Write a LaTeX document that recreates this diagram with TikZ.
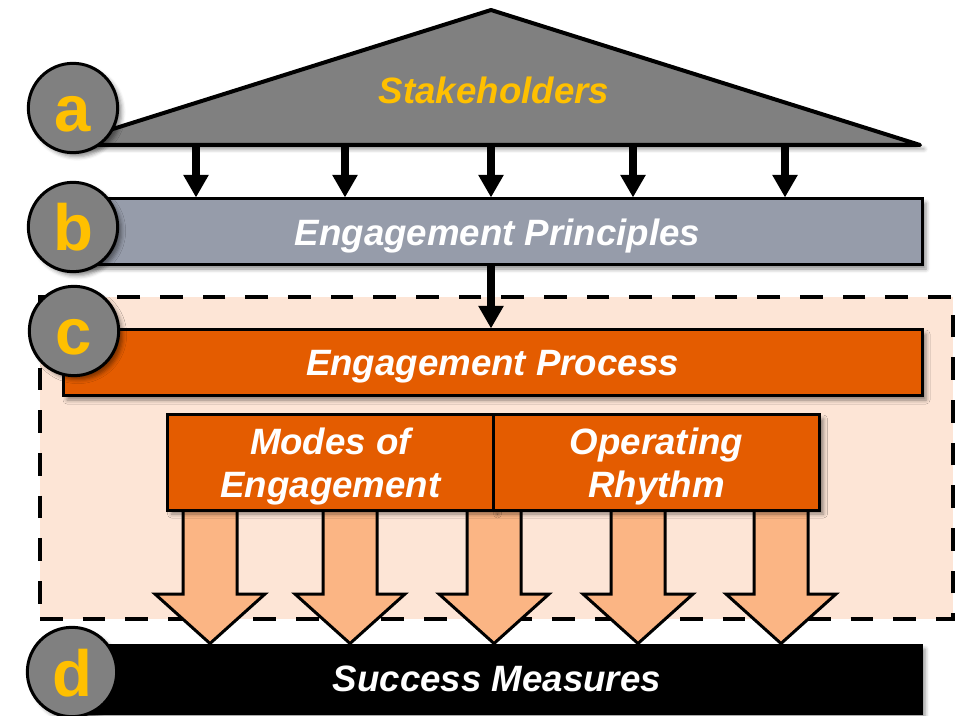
\documentclass[tikz,border=0pt]{standalone}
\usepackage{fontspec}
\setmainfont{Liberation Sans}
\usetikzlibrary{arrows.meta}
\usetikzlibrary{positioning}
\usetikzlibrary{shadows.blur}

\definecolor{tagGray}{RGB}{128,128,128}
\definecolor{tagGold}{RGB}{255,192,0}
\definecolor{principleBlue}{RGB}{150,156,170}
\definecolor{processOrange}{RGB}{228,92,0}
\definecolor{processPeach}{RGB}{253,229,214}
\definecolor{flowPeach}{RGB}{251,181,132}

\tikzset{
  % soft shadow below and right of the shapes
  soft shadow/.style = {
    blur shadow={shadow xshift=3pt,shadow yshift=-3pt,shadow blur radius=3pt,shadow opacity=45}
  },
  label font/.style = {
    font = \bfseries\itshape\fontsize{27.5}{32}\selectfont
  },
  % horizontal layer bar
  level/.style = {
    draw = black,
    line width = 2.25pt,
    rectangle,
    minimum height = 49.5pt,
    inner sep = 0,
    text = white,
    text depth = 0pt,
    label font,
    soft shadow
  },
  % two-line box inside the process layer
  box/.style = {
    level,
    fill = processOrange,
    minimum width = 244.5pt,
    minimum height = 71.25pt,
    align = center
  },
  % dashed process area
  region/.style = {
    draw = black,
    fill = processPeach,
    line width = 3.6pt,
    dash pattern = on 17pt off 15pt,
    rectangle,
    inner sep = 0
  },
  % layer letter
  tag/.style = {
    circle,
    draw = black,
    line width = 2.25pt,
    fill = tagGray,
    text = tagGold,
    minimum size = 67pt,
    inner sep = 0,
    text height = 36pt,
    text depth = 0pt,
    font = \bfseries\fontsize{49}{49}\selectfont,
    soft shadow
  },
  roof/.style = {
    draw = black,
    fill = tagGray,
    line width = 3pt,
    line join = round,
    soft shadow
  },
  % thin black arrow between layers
  feed/.style = {
    draw = black,
    line width = 6pt,
    -{Triangle[width = 18pt, length = 17pt]}
  },
  % wide block arrow
  flow/.style = {
    draw = black,
    fill = flowPeach,
    line width = 2.25pt,
    line join = miter
  }
}

\begin{document}
\begin{tikzpicture}[x = 0.75pt, y = -0.75pt]
  \useasboundingbox (0,0) rectangle (964,716);

  % stakeholders roof
  \coordinate (apex) at (491,10);
  \coordinate (eaveL) at (62,145);
  \coordinate (eaveR) at (920,145);
  \path[roof] (eaveL) -- (apex) -- (eaveR) -- cycle;
  \node[label font, text = tagGold] (stake) at (494,90) {Stakeholders};

  \node[level, fill = principleBlue, minimum width = 636.75pt]
    (principles) at (497.5,232) {Engagement Principles};

  \foreach \x in {196,345,491,633,785}
    \draw[feed] (eaveL -| \x,0) -- (principles.north -| \x,0);

  % process layer
  \node[region, minimum width = 684.75pt, minimum height = 241.5pt]
    (region) at (496.5,458) {};
  \node[level, fill = processOrange, minimum width = 644.25pt]
    (process) at (492.5,363) {Engagement Process};
  \draw[feed] (principles.south -| apex) -- (process.north -| apex);

  \node[level, fill = black, minimum width = 636pt, minimum height = 51pt]
    (success) at (497,679) {Success Measures};

  \foreach \x in {210,350,494,638,781}
    \draw[flow] (\x-27,505) -- (\x-27,594) -- (\x-55,594)
      -- (success.north -| \x,0)
      -- (\x+55,594) -- (\x+27,594) -- (\x+27,505) -- cycle;

  \node[box] (modes) at (330.5,462.5) {Modes of\\Engagement};
  \node[box] (rhythm) at (656.5,462.5) {Operating\\Rhythm};

  % layer letters
  \node[tag] (tagA) at (73,108) {a};
  \node[tag] (tagB) at (73,227) {b};
  \node[tag] (tagC) at (74,331) {c};
  \node[tag] (tagD) at (72,672) {d};
\end{tikzpicture}
\end{document}
